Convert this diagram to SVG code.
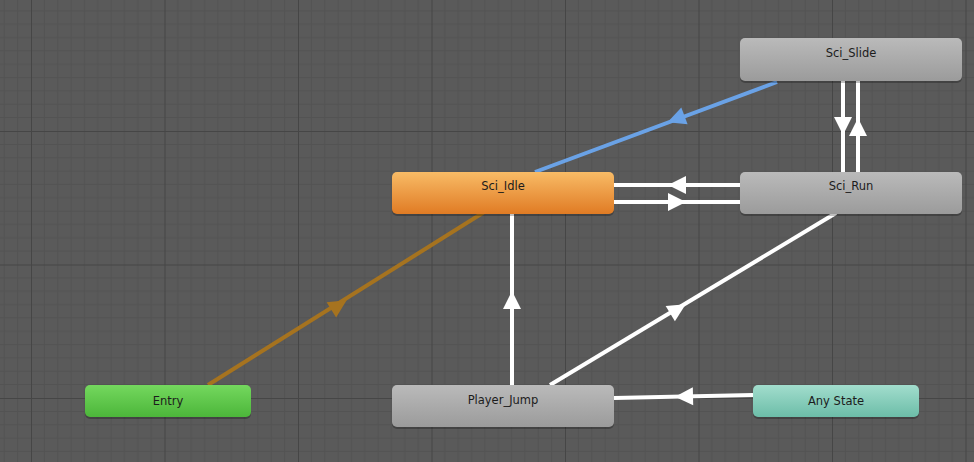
<svg xmlns="http://www.w3.org/2000/svg" width="974" height="462" viewBox="0 0 974 462">
  <defs>
    <!-- editor canvas grid: minor cells of 13.35px, major every 10 cells -->
    <pattern id="grid" patternUnits="userSpaceOnUse" x="31" y="-2.5" width="133.5" height="133.5">
      <rect width="133.5" height="133.5" fill="#5a5a5a"/>
      <path d="M13.35 0V133.5M26.7 0V133.5M40.05 0V133.5M53.4 0V133.5M66.75 0V133.5M80.1 0V133.5M93.45 0V133.5M106.8 0V133.5M120.15 0V133.5M0 13.35H133.5M0 26.7H133.5M0 40.05H133.5M0 53.4H133.5M0 66.75H133.5M0 80.1H133.5M0 93.45H133.5M0 106.8H133.5M0 120.15H133.5" stroke="#535353" stroke-width="1" fill="none"/>
      <path d="M0.5 0V133.5M0 0.5H133.5" stroke="#464646" stroke-width="1" fill="none"/>
    </pattern>
    <linearGradient id="gGray" x1="0" y1="0" x2="0" y2="1">
      <stop offset="0" stop-color="#bababa"/>
      <stop offset="1" stop-color="#9b9b9b"/>
    </linearGradient>
    <linearGradient id="gOrange" x1="0" y1="0" x2="0" y2="1">
      <stop offset="0" stop-color="#f8bb66"/>
      <stop offset="1" stop-color="#e07b24"/>
    </linearGradient>
    <linearGradient id="gGreen" x1="0" y1="0" x2="0" y2="1">
      <stop offset="0" stop-color="#74d85e"/>
      <stop offset="1" stop-color="#4cb63a"/>
    </linearGradient>
    <linearGradient id="gTeal" x1="0" y1="0" x2="0" y2="1">
      <stop offset="0" stop-color="#a2ddcd"/>
      <stop offset="1" stop-color="#6cbda8"/>
    </linearGradient>
    <polygon id="head" points="9,0 -9,-9 -9,9"/>
  </defs>
  <style>
    .link { stroke-width: 4; fill: none; stroke-linecap: butt; }
    .white { stroke: #ffffff; }
    .blue { stroke: #6aa2e6; }
    .brown { stroke: #a6731f; }
    .shadow { fill: #000000; opacity: 0.25; }
    .label { font-family: "DejaVu Sans", "Liberation Sans", sans-serif; font-size: 11.5px; fill: #1c1c1c; text-anchor: middle; }
  </style>

  <rect width="974" height="462" fill="url(#grid)"/>

  <g id="connectors">
    <!-- Entry -> Sci_Idle (default transition) -->
    <line class="link brown" x1="208" y1="385" x2="505" y2="199"/>
    <use href="#head" fill="#a6731f" transform="translate(339,305) rotate(-32)"/>
    <!-- Sci_Slide -> Sci_Idle -->
    <line class="link blue" x1="777" y1="82" x2="535" y2="172"/>
    <use href="#head" fill="#6aa2e6" transform="translate(676,119) rotate(159.6)"/>
    <!-- Sci_Run -> Sci_Idle -->
    <line class="link white" x1="614" y1="185" x2="740" y2="185"/>
    <use href="#head" fill="#ffffff" transform="translate(677,185) rotate(180)"/>
    <!-- Sci_Idle -> Sci_Run -->
    <line class="link white" x1="614" y1="202" x2="740" y2="202"/>
    <use href="#head" fill="#ffffff" transform="translate(677,202)"/>
    <!-- Sci_Slide -> Sci_Run -->
    <line class="link white" x1="843" y1="81" x2="843" y2="172"/>
    <use href="#head" fill="#ffffff" transform="translate(843,126) rotate(90)"/>
    <!-- Sci_Run -> Sci_Slide -->
    <line class="link white" x1="858" y1="81" x2="858" y2="172"/>
    <use href="#head" fill="#ffffff" transform="translate(858,127) rotate(-90)"/>
    <!-- Player_Jump -> Sci_Idle -->
    <line class="link white" x1="512" y1="385" x2="512" y2="214"/>
    <use href="#head" fill="#ffffff" transform="translate(512,300) rotate(-90)"/>
    <!-- Player_Jump -> Sci_Run -->
    <line class="link white" x1="550" y1="385" x2="836" y2="213"/>
    <use href="#head" fill="#ffffff" transform="translate(678,309) rotate(-31)"/>
    <!-- Any State -> Player_Jump -->
    <line class="link white" x1="753" y1="395" x2="614" y2="398"/>
    <use href="#head" fill="#ffffff" transform="translate(684,396.5) rotate(178.8)"/>
  </g>

  <g id="node-sci-slide">
    <rect class="shadow" x="740" y="40" width="222" height="43" rx="5"/>
    <rect x="740" y="38" width="222" height="43" rx="5" fill="url(#gGray)"/>
    <text class="label" x="851" y="57">Sci_Slide</text>
  </g>

  <g id="node-sci-run">
    <rect class="shadow" x="740" y="174" width="222" height="42" rx="5"/>
    <rect x="740" y="172" width="222" height="42" rx="5" fill="url(#gGray)"/>
    <text class="label" x="851" y="190">Sci_Run</text>
  </g>

  <g id="node-sci-idle">
    <rect class="shadow" x="392" y="174" width="222" height="42" rx="5"/>
    <rect x="392" y="172" width="222" height="42" rx="5" fill="url(#gOrange)"/>
    <text class="label" x="503" y="190">Sci_Idle</text>
  </g>

  <g id="node-player-jump">
    <rect class="shadow" x="392" y="387" width="222" height="42" rx="5"/>
    <rect x="392" y="385" width="222" height="42" rx="5" fill="url(#gGray)"/>
    <text class="label" x="503" y="404">Player_Jump</text>
  </g>

  <g id="node-entry">
    <rect class="shadow" x="85" y="387" width="166" height="32" rx="5"/>
    <rect x="85" y="385" width="166" height="32" rx="5" fill="url(#gGreen)"/>
    <text class="label" x="168" y="405">Entry</text>
  </g>

  <g id="node-any-state">
    <rect class="shadow" x="753" y="387" width="166" height="32" rx="5"/>
    <rect x="753" y="385" width="166" height="32" rx="5" fill="url(#gTeal)"/>
    <text class="label" x="836" y="405">Any State</text>
  </g>
</svg>
